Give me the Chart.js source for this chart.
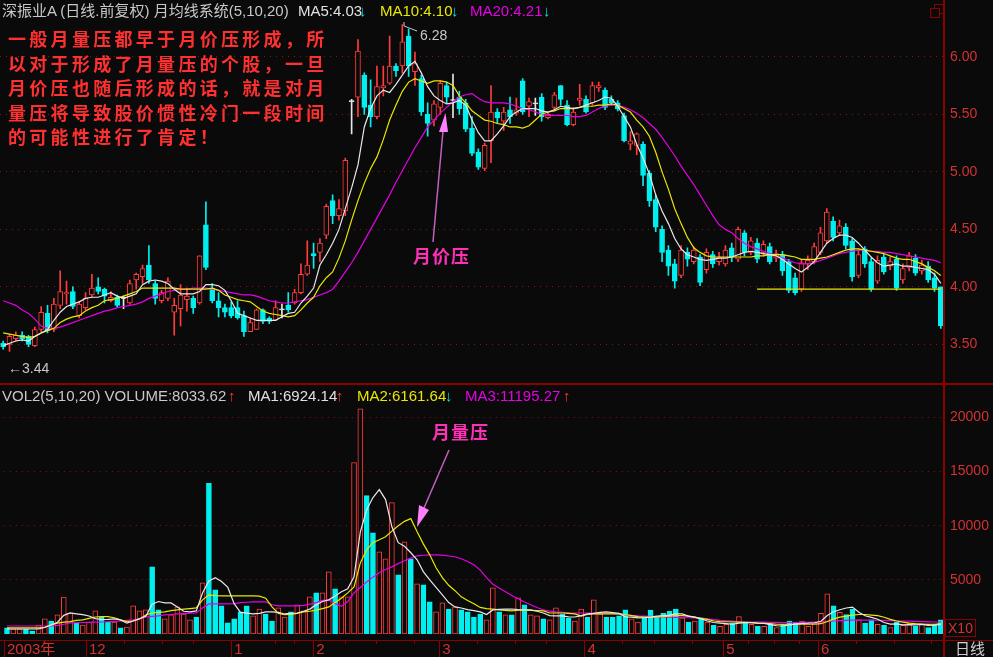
<!DOCTYPE html>
<html>
<head>
<meta charset="utf-8">
<title>深振业A 月均线系统</title>
<script src="https://cdn.jsdelivr.net/npm/chart.js@4.4.1/dist/chart.umd.min.js"></script>
<style>
  html, body { margin:0; padding:0; background:#0a0a0a; }
  #board { position:relative; width:993px; height:657px; overflow:hidden; background:#0a0a0a;
           font-family:"Liberation Sans", "Noto Sans CJK SC", sans-serif; }
  #board canvas { position:absolute; left:0; }
  .txt { position:absolute; white-space:nowrap; font-size:15px; line-height:16px; }
  .frame { position:absolute; background:#8c0000; }
  .note { position:absolute; left:8px; top:26px; color:#ff3030; font-family:"Noto Sans CJK SC", sans-serif;
          font-weight:bold; font-size:18px; line-height:24.5px; letter-spacing:3.3px; white-space:nowrap; }
  .tag { position:absolute; color:#ff30b8; font-family:"Noto Sans CJK SC", sans-serif; font-weight:bold;
         font-size:18px; line-height:20px; letter-spacing:1px; white-space:nowrap; }
</style>
</head>
<body>
<div id="board">
  <canvas id="priceChart" width="993" height="386" style="top:0"></canvas>
  <canvas id="volChart" width="993" height="271" style="top:386px"></canvas>

  <div class="frame" style="left:0;top:383px;width:993px;height:2px"></div>
  <div class="frame" style="left:0;top:640px;width:993px;height:1px"></div>
  <div class="frame" style="left:943px;top:0;width:2px;height:657px"></div>
  <div style="position:absolute;left:934px;top:4px;width:8px;height:8px;border:1px solid #8c0000"></div>
  <div style="position:absolute;left:930px;top:8px;width:8px;height:8px;border:1px solid #8c0000;background:#0a0a0a"></div>

  <!-- header rows -->
  <div class="txt" style="left:2px;top:3px;color:#c8c8c8">深振业A (日线.前复权) 月均线系统(5,10,20)</div>
  <div class="txt" style="left:298px;top:3px;color:#e0e0e0">MA5:4.03</div>
  <div class="txt" style="left:359px;top:3px;color:#00e0e0">↓</div>
  <div class="txt" style="left:380px;top:3px;color:#e8e800">MA10:4.10</div>
  <div class="txt" style="left:451px;top:3px;color:#00e0e0">↓</div>
  <div class="txt" style="left:470px;top:3px;color:#e600e6">MA20:4.21</div>
  <div class="txt" style="left:543px;top:3px;color:#00e0e0">↓</div>

  <div class="txt" style="left:2px;top:388px;color:#c8c8c8">VOL2(5,10,20) VOLUME:8033.62</div>
  <div class="txt" style="left:228px;top:388px;color:#ff3030">↑</div>
  <div class="txt" style="left:248px;top:388px;color:#e0e0e0">MA1:6924.14</div>
  <div class="txt" style="left:336px;top:388px;color:#ff3030">↑</div>
  <div class="txt" style="left:357px;top:388px;color:#e8e800">MA2:6161.64</div>
  <div class="txt" style="left:445px;top:388px;color:#00e0e0">↓</div>
  <div class="txt" style="left:465px;top:388px;color:#e600e6">MA3:11195.27</div>
  <div class="txt" style="left:563px;top:388px;color:#ff3030">↑</div>

  <div style="position:absolute;left:945px;top:619px;width:29px;height:16px;border:1px solid #8c0000;color:#d23232;font-size:14px;line-height:16px;text-align:center">X10</div>
  <div class="txt" style="left:955px;top:641px;color:#d0d0d0;font-size:15px">日线</div>

  <!-- high / low marks -->
  <div class="txt" style="left:420px;top:27px;color:#c8c8c8;font-size:14px">6.28</div>
  <div class="txt" style="left:8px;top:360px;color:#c8c8c8;font-size:14px">←3.44</div>

  <div class="note">一般月量压都早于月价压形成，所<br>以对于形成了月量压的个股，一旦<br>月价压也随后形成的话，就是对月<br>量压将导致股价惯性冷门一段时间<br>的可能性进行了肯定！</div>
  <div class="tag" style="left:413px;top:245px">月价压</div>
  <div class="tag" style="left:432px;top:421px">月量压</div>

  <svg width="993" height="657" style="position:absolute;left:0;top:0;pointer-events:none">
    <line x1="433" y1="242" x2="443" y2="131" stroke="#c060c0" stroke-width="1.5"/>
    <polygon points="445.5,113 439,132 448,132" fill="#ff80ff"/>
    <line x1="449" y1="450" x2="424" y2="508" stroke="#c060c0" stroke-width="1.5"/>
    <polygon points="417,527 419,505 429,510" fill="#ff80ff"/>
    <polyline points="404,22 404,26 417,31" stroke="#c8c8c8" stroke-width="1" fill="none"/>
  </svg>
</div>

<script>
// 深振业A daily bars, Nov 2003 - Jun 2004
var openP = [3.51,3.50,3.55,3.58,3.57,3.49,3.63,3.77,3.63,3.84, 3.94,3.96,3.75,3.82,3.93,4.00,3.98,3.88,3.91,3.90,
             3.86,4.06,4.09,4.19,4.03,3.88,3.90,3.78,3.81,3.89, 3.90,3.86,4.54,3.99,3.88,3.82,3.82,3.82,3.75,3.61,
             3.63,3.80,3.73,3.71,3.80,3.84,3.86,3.95,4.11,4.29, 4.30,4.45,4.75,4.62,4.66,5.61,5.65,5.84,5.58,5.48,
             5.73,5.77,5.92,5.92,6.18,5.87,5.81,5.50,5.45,5.56, 5.75,5.62,5.65,5.60,5.38,5.17,5.03,5.27,5.52,5.44,
             5.54,5.51,5.79,5.57,5.59,5.65,5.47,5.56,5.75,5.58, 5.41,5.62,5.63,5.60,5.73,5.71,5.63,5.60,5.49,5.24,
             5.23,5.24,4.99,4.76,4.50,4.32,4.20,4.10,4.30,4.22, 4.26,4.15,4.28,4.22,4.20,4.34,4.24,4.47,4.30,4.38,
             4.30,4.35,4.25,4.28,4.22,4.08,3.98,4.20,4.22,4.30, 4.40,4.57,4.47,4.52,4.40,4.10,4.33,4.22,4.05,4.26,
             4.18,4.24,4.06,4.17,4.25,4.14,4.18,4.08,4.00];
var highP = [3.53,3.59,3.61,3.61,3.58,3.65,3.83,3.84,3.90,4.14, 4.05,4.00,3.87,3.95,4.11,4.08,3.99,3.96,3.93,3.92,
             4.06,4.12,4.19,4.36,4.05,3.97,4.08,3.90,4.02,3.99, 3.92,4.27,4.74,4.03,3.95,3.85,3.87,3.88,3.79,3.73,
             3.81,3.81,3.74,3.88,3.85,3.95,3.98,4.20,4.40,4.38, 4.42,4.72,4.80,4.76,5.12,5.63,6.15,5.86,5.80,5.92,
             5.92,6.18,5.94,6.28,6.24,6.04,5.84,5.60,5.62,5.79, 5.78,5.85,5.70,5.63,5.48,5.20,5.25,5.75,5.55,5.56,
             5.65,5.64,5.81,5.64,5.64,5.68,5.51,5.69,5.75,5.62, 5.56,5.76,5.66,5.78,5.78,5.73,5.66,5.62,5.51,5.35,
             5.34,5.26,5.01,4.80,4.53,4.36,4.24,4.36,4.34,4.35, 4.28,4.33,4.31,4.30,4.36,4.38,4.52,4.49,4.43,4.42,
             4.40,4.38,4.32,4.31,4.24,4.12,4.24,4.27,4.38,4.52, 4.68,4.61,4.58,4.55,4.42,4.33,4.35,4.25,4.27,4.29,
             4.26,4.27,4.20,4.30,4.28,4.23,4.22,4.12,4.00];
var lowP = [3.46,3.44,3.53,3.53,3.48,3.48,3.61,3.60,3.61,3.81, 3.85,3.81,3.73,3.80,3.91,3.94,3.86,3.87,3.82,3.81,
            3.85,3.98,4.03,4.03,3.85,3.86,3.88,3.58,3.66,3.79, 3.77,3.85,4.15,3.86,3.74,3.74,3.73,3.72,3.57,3.61,
            3.63,3.68,3.68,3.71,3.73,3.78,3.85,3.94,4.10,4.16, 4.22,4.42,4.55,4.58,4.62,5.33,5.48,5.50,5.39,5.46,
            5.66,5.76,5.83,5.86,5.83,5.75,5.49,5.31,5.40,5.50, 5.60,5.47,5.50,5.35,5.14,5.02,5.01,5.08,5.42,5.36,
            5.42,5.49,5.50,5.48,5.49,5.44,5.46,5.53,5.58,5.40, 5.40,5.58,5.51,5.58,5.70,5.54,5.58,5.53,5.26,5.19,
            5.15,4.88,4.70,4.48,4.22,4.10,3.99,4.08,4.18,4.20, 4.01,4.12,4.17,4.19,4.18,4.22,4.22,4.27,4.28,4.21,
            4.27,4.20,4.22,4.10,3.95,3.93,3.96,4.15,4.20,4.28, 4.38,4.40,4.45,4.33,4.05,4.08,4.17,3.96,4.03,4.11,
            4.15,3.97,4.03,4.14,4.10,4.11,4.04,3.96,3.64];
var closeP = [3.48,3.57,3.58,3.55,3.50,3.63,3.78,3.62,3.85,3.96, 3.95,3.83,3.85,3.90,3.99,3.96,3.92,3.91,3.84,3.90,
              4.03,4.11,4.16,4.06,3.90,3.95,4.05,3.84,3.93,3.92, 3.82,4.27,4.17,3.88,3.82,3.78,3.75,3.73,3.61,3.69,
              3.80,3.70,3.70,3.82,3.80,3.80,3.95,4.11,4.19,4.27, 4.38,4.70,4.62,4.68,5.10,5.61,6.05,5.56,5.48,5.74,
              5.75,5.92,5.88,6.13,5.92,5.94,5.52,5.42,5.59,5.77, 5.65,5.62,5.55,5.37,5.16,5.04,5.23,5.52,5.47,5.52,
              5.48,5.54,5.52,5.61,5.59,5.48,5.50,5.67,5.63,5.41, 5.52,5.64,5.52,5.75,5.75,5.56,5.60,5.55,5.27,5.27,
              5.33,4.97,4.75,4.52,4.30,4.18,4.05,4.32,4.24,4.32, 4.04,4.30,4.20,4.26,4.32,4.26,4.50,4.30,4.40,4.24,
              4.37,4.22,4.29,4.14,3.97,3.95,4.21,4.23,4.35,4.47, 4.65,4.43,4.53,4.36,4.09,4.28,4.20,3.98,4.23,4.13,
              4.22,3.99,4.16,4.27,4.12,4.19,4.06,3.99,3.66];
var volume = [560,460,460,460,280,830,1390,1200,1760,3400, 1940,1020,830,1110,2130,1570,1110,1110,560,650,
              2590,2130,2220,6200,2220,1390,1760,2500,1850,1300, 1570,4720,13900,4070,2590,1020,1390,2040,2590,1670,
              2310,1850,1200,2410,1570,2040,2690,2130,3430,3800, 3800,5740,4170,3430,3430,15830,20800,12780,9350,7590,
              6940,12130,5460,8520,6940,4630,4540,2960,2040,2870, 2310,2500,2220,2040,1570,1850,1300,4260,2040,1760,
              1760,3330,2690,1760,1670,1390,1300,2410,1850,1480, 1200,2310,1570,3150,1850,1570,1570,1670,2220,1390,
              1110,1570,2200,1600,1900,2100,2300,1500,1100,1200, 1500,1100,800,700,900,1000,1600,1100,900,700,
              700,900,600,800,1200,1100,1200,700,1000,1900, 3700,2600,2000,1800,2300,1300,1000,1300,900,800,
              600,1100,800,1000,700,900,600,900,1300];

// moving-average lines as drawn in the picture
var ma5 = [3.49,3.51,3.53,3.54,3.53,3.57,3.60,3.63,3.71,3.78, 3.83,3.85,3.87,3.90,3.91,3.91,3.93,3.95,3.92,3.90,
           3.92,3.94,4.02,4.05,4.06,4.05,4.03,3.98,3.94,3.94, 3.94,3.96,4.02,4.02,4.01,3.97,3.88,3.77,3.75,3.73,
           3.71,3.71,3.71,3.71,3.74,3.77,3.78,3.86,3.92,3.99, 4.19,4.28,4.38,4.50,4.68,4.86,5.06,5.39,5.55,5.66,
           5.71,5.69,5.76,5.84,5.92,5.96,5.86,5.74,5.66,5.62, 5.59,5.60,5.62,5.58,5.45,5.34,5.27,5.27,5.33,5.40,
           5.48,5.52,5.55,5.55,5.55,5.53,5.52,5.54,5.57,5.56, 5.55,5.56,5.58,5.60,5.62,5.65,5.64,5.57,5.48,5.39,
           5.24,5.12,4.98,4.80,4.66,4.55,4.42,4.33,4.28,4.26, 4.24,4.23,4.24,4.25,4.25,4.26,4.28,4.30,4.31,4.30,
           4.29,4.28,4.27,4.24,4.20,4.16,4.13,4.17,4.22,4.30, 4.38,4.42,4.45,4.45,4.43,4.38,4.32,4.26,4.21,4.18,
           4.19,4.20,4.18,4.18,4.17,4.16,4.15,4.11,4.03];
var ma10 = [3.60,3.59,3.58,3.57,3.56,3.57,3.60,3.62,3.64,3.69, 3.72,3.74,3.75,3.79,3.82,3.84,3.88,3.89,3.90,3.92,
            3.94,3.96,3.99,3.99,3.99,3.99,3.99,3.99,3.98,3.98, 3.98,3.98,3.98,3.99,3.97,3.93,3.91,3.89,3.88,3.87,
            3.83,3.79,3.77,3.76,3.75,3.74,3.75,3.80,3.86,3.91, 4.01,4.08,4.13,4.25,4.40,4.58,4.75,4.90,5.03,5.13,
            5.28,5.45,5.58,5.70,5.78,5.81,5.79,5.77,5.79,5.79, 5.78,5.75,5.66,5.60,5.53,5.49,5.45,5.44,5.42,5.41,
            5.39,5.39,5.38,5.40,5.45,5.50,5.52,5.53,5.55,5.55, 5.55,5.56,5.57,5.57,5.58,5.58,5.59,5.58,5.55,5.52,
            5.45,5.39,5.31,5.17,5.00,4.85,4.68,4.55,4.43,4.34, 4.30,4.27,4.26,4.26,4.26,4.26,4.26,4.26,4.26,4.27,
            4.27,4.28,4.28,4.28,4.27,4.26,4.24,4.24,4.24,4.25, 4.26,4.28,4.30,4.32,4.33,4.33,4.32,4.31,4.30,4.29,
            4.27,4.25,4.24,4.24,4.22,4.20,4.17,4.14,4.10];
var ma20 = [3.88,3.86,3.84,3.80,3.77,3.72,3.66,3.64,3.64,3.65, 3.67,3.69,3.71,3.73,3.75,3.77,3.79,3.80,3.82,3.83,
            3.84,3.85,3.87,3.90,3.92,3.94,3.96,3.97,3.98,3.98, 3.99,3.99,3.99,3.98,3.97,3.96,3.95,3.94,3.93,3.93,
            3.92,3.90,3.88,3.87,3.86,3.86,3.87,3.88,3.89,3.91, 3.93,3.95,3.98,4.05,4.13,4.21,4.30,4.40,4.50,4.60,
            4.70,4.80,4.91,5.01,5.11,5.21,5.30,5.39,5.45,5.51, 5.56,5.61,5.65,5.67,5.68,5.64,5.61,5.60,5.60,5.60,
            5.59,5.57,5.55,5.54,5.52,5.50,5.49,5.49,5.49,5.49, 5.48,5.48,5.49,5.52,5.55,5.57,5.58,5.58,5.56,5.54,
            5.51,5.47,5.42,5.37,5.30,5.22,5.14,5.05,4.97,4.89, 4.80,4.71,4.62,4.54,4.50,4.47,4.42,4.38,4.35,4.33,
            4.31,4.29,4.27,4.25,4.23,4.21,4.20,4.20,4.21,4.23, 4.25,4.27,4.29,4.30,4.31,4.32,4.32,4.31,4.31,4.30,
            4.30,4.29,4.28,4.27,4.26,4.25,4.24,4.23,4.21];
var volMa5 = [460,460,460,460,460,480,620,830,1090,1720, 1940,1860,1790,1660,1420,1340,1350,1400,1300,1000,
              1200,1410,1630,2760,3000,2870,2870,2500,2100,2050, 2130,3800,4900,5200,4850,4300,2800,2000,1920,1850,
              1900,2040,2040,2000,1850,1900,1940,2100,2300,2690, 3000,3150,3500,3900,4170,5280,9440,11480,12600,13330,
              12410,9900,8430,8100,7500,6850,5740,5000,4300,3610, 2900,2500,2400,2250,2150,2040,1800,2220,2280,2300,
              2310,2250,2220,2220,2100,1940,1700,1670,1670,1580, 1570,1700,1850,1900,2000,2040,1980,1900,1570,1550,
              1480,1500,1550,1650,1700,1750,1850,1850,1650,1550, 1400,1200,1060,1000,950,900,1000,1050,1040,1000,
              980,860,760,740,840,920,980,1000,1040,1180, 1700,2060,2240,2400,2480,2000,1680,1540,1360,1060,
              920,940,840,860,840,880,800,820,880];
var volMa10 = [560,560,560,560,560,560,600,850,1000,1100, 1150,1250,1300,1450,1570,1600,1600,1500,1300,1150,
               1200,1390,1760,1940,2000,2040,2150,2220,2300,2350, 2410,3150,3610,3550,3520,3520,3520,3520,3520,3520,
               3500,3300,2500,1900,1780,1800,1900,2040,2100,2200, 2350,2500,2900,3300,3800,4350,6570,7780,8430,8700,
               8980,9500,10000,10400,10650,9440,8300,7310,6110,5200, 4500,4000,3430,3100,2800,2450,2350,2300,2220,2180,
               2130,2200,2200,2180,2150,2130,1940,1940,1940,1900, 1850,1650,1800,1850,1850,1850,1850,1850,1800,1700,
               1600,1570,1560,1580,1600,1650,1700,1700,1650,1550, 1450,1350,1200,1150,1130,1110,1100,1080,1050,1000,
               980,950,900,880,900,900,920,900,900,950, 1150,1400,1550,1650,1750,1800,1800,1750,1700,1550,
               1350,1200,1100,1000,950,920,880,900,950];
var volMa20 = [740,740,740,740,740,740,740,740,800,900, 1020,1040,1060,1080,1100,1110,1130,1160,1200,1250,
               1300,1400,1570,1620,1670,1760,1800,1850,1880,1920, 1940,2410,2780,2780,2780,2780,2800,2900,2930,2960,
               2960,2960,2700,2590,2590,2590,2590,2650,2750,2900, 3100,3150,2800,2550,3000,3800,4300,4810,5250,5650,
               5950,6200,6500,6760,7000,7220,7270,7300,7310,7280, 7200,7130,6950,6700,6400,5900,5200,4600,4250,3900,
               3550,3250,2950,2700,2450,2220,2120,2040,2000,1960, 1940,1940,1940,1940,1930,1900,1870,1850,1800,1720,
               1670,1650,1630,1600,1580,1560,1540,1520,1500,1480, 1450,1400,1330,1250,1210,1180,1130,1110,1100,1100,
               1090,1080,1070,1060,1060,1060,1070,1080,1090,1100, 1150,1200,1230,1250,1280,1290,1290,1280,1270,1250,
               1230,1210,1200,1180,1160,1140,1120,1110,1110];

var priceTicks = [3.5, 4.0, 4.5, 5.0, 5.5, 6.0];
var volTicks = [5000, 10000, 15000, 20000];
var monthTicks = [[0, '2003年'], [13, '12'], [36, '1'], [49, '2'], [69, '3'], [92, '4'], [114, '5'], [129, '6']];
var weekTicks = [19, 25, 30, 43, 46, 54, 59, 65, 75, 81, 86, 98, 103, 109, 118, 122, 126, 135, 141, 147];
var supportLevel = 3.98;
var supportFrom = 119;

var UP = '#ff3c3c', DOWN = '#00f0f0', FLAT = '#e6e6e6', BG = '#0a0a0a';
var AXIS_TEXT = '#d23232', GRID = '#8c1414';

Chart.defaults.font.family = '"Liberation Sans", "Noto Sans CJK SC", sans-serif';

var labels = closeP.map(function(c, i) { return String(i); });
var candleColor = closeP.map(function(c, i) {
    if (c > openP[i]) return UP;
    if (c < openP[i]) return DOWN;
    return FLAT;
});
var bodyFill = candleColor.map(function(col) { return col === UP ? BG : col; });
var bodies = openP.map(function(o, i) { return [o, closeP[i]]; });
var wicks = lowP.map(function(l, i) { return [l, highP[i]]; });
var support = labels.map(function(l, i) { return i >= supportFrom ? supportLevel : null; });
var volColor = closeP.map(function(c, i) { return c >= openP[i] ? UP : DOWN; });
var volFill = volColor.map(function(col) { return col === UP ? BG : col; });
var monthLabel = {};
monthTicks.forEach(function(m) { monthLabel[m[0]] = m[1]; });

function maLine(data, color) {
    return { type: 'line', data: data, borderColor: color, borderWidth: 1.2, pointRadius: 0,
             tension: 0, order: 0 };
}

function rightAxis(min, max, ticks, fmt) {
    return {
        position: 'right', min: min, max: max,
        afterFit: function(s) { s.width = 49; },
        afterBuildTicks: function(s) { s.ticks = ticks.map(function(v) { return { value: v }; }); },
        ticks: { color: AXIS_TEXT, font: { size: 14 }, padding: 6, callback: fmt },
        grid: { color: GRID, lineWidth: 1, drawTicks: false },
        border: { display: false, dash: [1, 5] }
    };
}

var priceChart = new Chart(document.getElementById('priceChart'), {
    type: 'bar',
    data: {
        labels: labels,
        datasets: [
            maLine(ma5, '#e8e8e8'),
            maLine(ma10, '#e8e800'),
            maLine(ma20, '#e600e6'),
            maLine(support, '#e8e800'),
            { data: bodies, backgroundColor: bodyFill, borderColor: candleColor, borderWidth: 1,
              borderSkipped: false, barThickness: 5, minBarLength: 1, grouped: false, order: 1 },
            { data: wicks, backgroundColor: candleColor, barThickness: 1, grouped: false, order: 2 }
        ]
    },
    options: {
        responsive: false, animation: false, events: [],
        layout: { padding: { left: 0, right: 0, top: 18, bottom: 3 } },
        plugins: { legend: { display: false }, tooltip: { enabled: false } },
        scales: {
            x: { display: false, offset: true },
            y: rightAxis(3.264, 6.337, priceTicks, function(v) { return v.toFixed(2); })
        }
    }
});

// month lines and weekly ticks on the date strip
var axisMarks = {
    id: 'axisMarks',
    afterDraw: function(chart) {
        var ctx = chart.ctx, xs = chart.scales.x;
        var half = (xs.getPixelForValue(1) - xs.getPixelForValue(0)) / 2;
        var top = chart.chartArea.bottom + 6;
        ctx.save();
        ctx.strokeStyle = '#8c0000';
        ctx.lineWidth = 1;
        monthTicks.forEach(function(m) {
            var px = Math.round(xs.getPixelForValue(m[0]) - half) + 0.5;
            ctx.beginPath(); ctx.moveTo(px, top); ctx.lineTo(px, chart.height); ctx.stroke();
        });
        weekTicks.forEach(function(w) {
            var px = Math.round(xs.getPixelForValue(w) - half) + 0.5;
            ctx.beginPath(); ctx.moveTo(px, top); ctx.lineTo(px, top + 4); ctx.stroke();
        });
        ctx.restore();
    }
};

var volChart = new Chart(document.getElementById('volChart'), {
    type: 'bar',
    data: {
        labels: labels,
        datasets: [
            maLine(volMa5, '#e8e8e8'),
            maLine(volMa10, '#e8e800'),
            maLine(volMa20, '#e600e6'),
            { data: volume, backgroundColor: volFill, borderColor: volColor, borderWidth: 1,
              borderSkipped: false, barThickness: 5, grouped: false, order: 1 }
        ]
    },
    options: {
        responsive: false, animation: false, events: [],
        layout: { padding: { left: 0, right: 0, top: 14, bottom: 0 } },
        plugins: { legend: { display: false }, tooltip: { enabled: false } },
        scales: {
            x: {
                offset: true,
                afterFit: function(s) { s.height = 23; },
                grid: { display: false, drawTicks: false },
                border: { display: false },
                ticks: { autoSkip: false, maxRotation: 0, minRotation: 0, align: 'start', padding: 7,
                         color: AXIS_TEXT, font: { size: 15 },
                         callback: function(v, i) { return monthLabel[i] || ''; } }
            },
            y: rightAxis(0, 21567, volTicks, function(v) { return String(v); })
        }
    },
    plugins: [axisMarks]
});
</script>
</body>
</html>
